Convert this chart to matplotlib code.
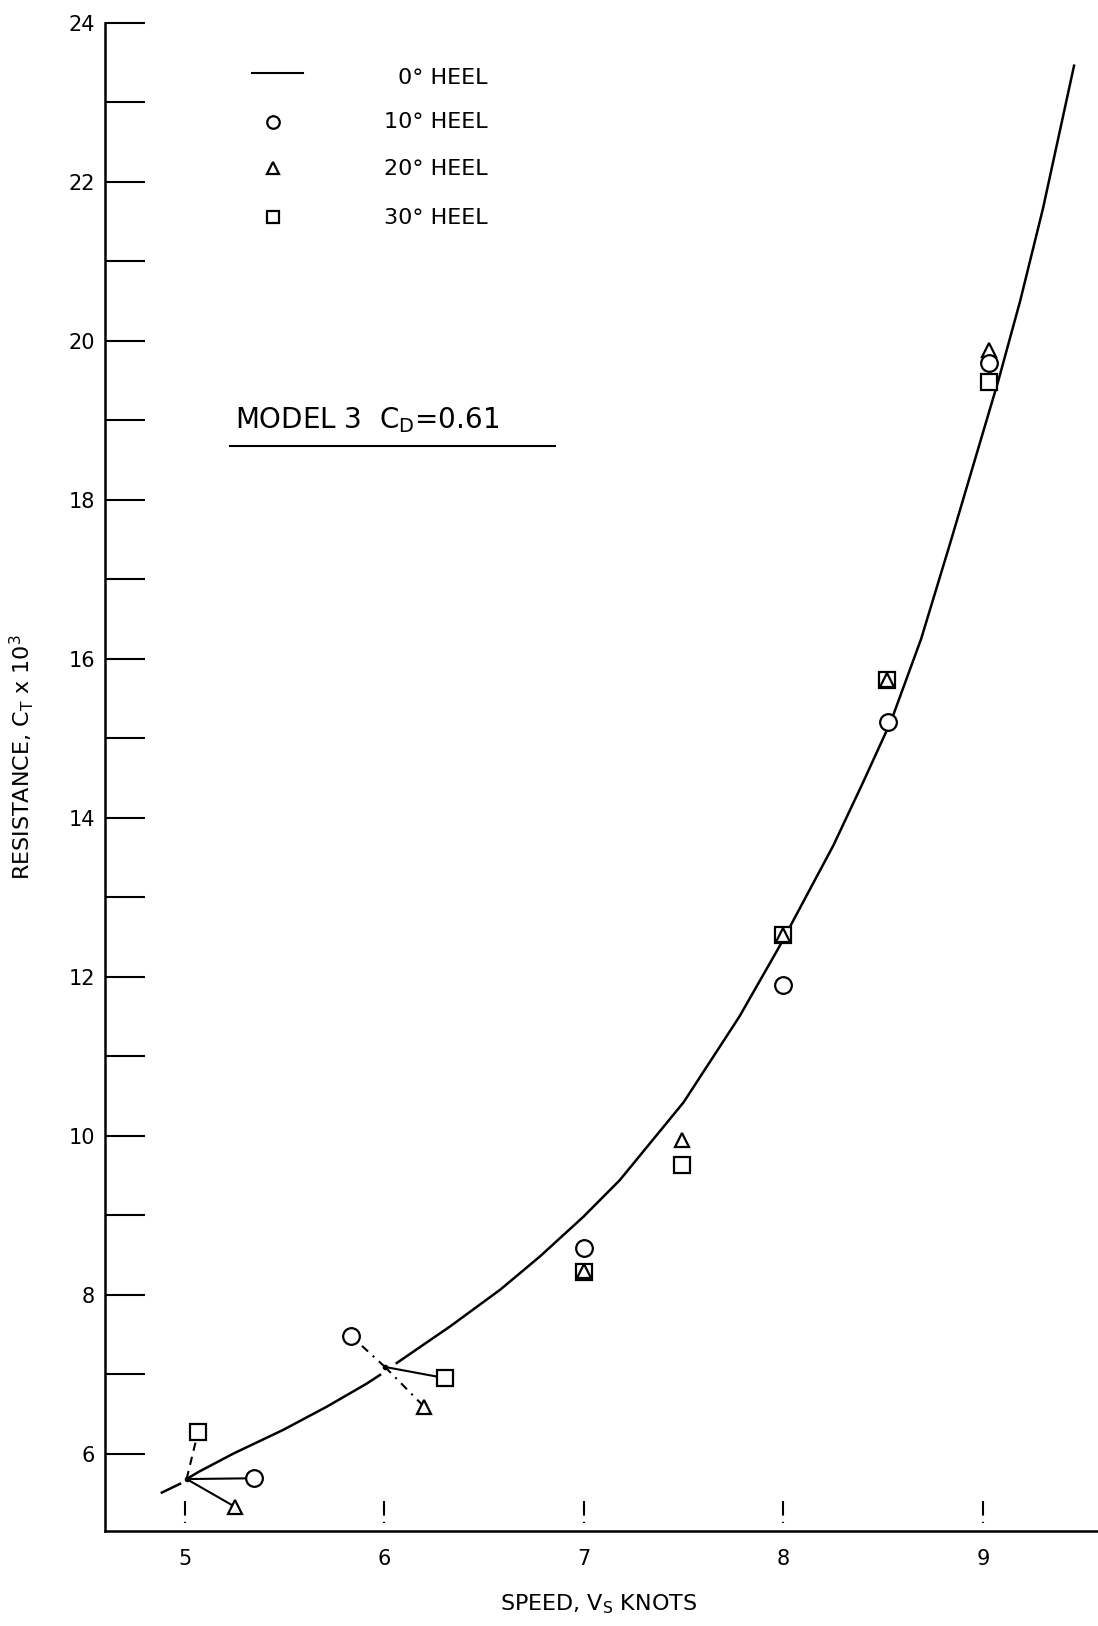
import matplotlib
matplotlib.use("Agg")
import matplotlib.pyplot as plt
from matplotlib.lines import Line2D

plt.rcParams['font.family'] = ['DejaVu Sans']
plt.rcParams['mathtext.default'] = 'regular'

# 0 deg heel faired curve (it breaks around 6 kn)
curve_lo_v = [5.01, 5.07, 5.244, 5.495, 5.712, 5.912, 5.979]
curve_lo_ct = [5.68, 5.77, 6.00, 6.30, 6.59, 6.88, 6.99]
curve_hi_v = [6.063, 6.33, 6.58, 6.78, 6.998, 7.18, 7.5, 7.78, 7.98, 8.25,
              8.40, 8.54, 8.69, 8.835, 9.077, 9.186, 9.30, 9.456]
curve_hi_ct = [7.14, 7.60, 8.06, 8.48, 8.98, 9.44, 10.42, 11.50, 12.38, 13.65,
               14.45, 15.22, 16.25, 17.45, 19.50, 20.50, 21.66, 23.46]

# measured points
heel10_v = [5.348, 5.834, 7.0, 8.0, 8.524, 9.03]
heel10_ct = [5.69, 7.48, 8.59, 11.89, 15.20, 19.72]
heel20_v = [5.253, 6.200, 7.0, 7.49, 8.0, 8.52, 9.03]
heel20_ct = [5.33, 6.59, 8.30, 9.94, 12.53, 15.73, 19.88]
heel30_v = [5.067, 6.305, 7.0, 7.49, 8.0, 8.52, 9.03]
heel30_ct = [6.27, 6.95, 8.28, 9.63, 12.53, 15.73, 19.48]

# where the heeled points at 5 and 6 kn are tied back to the 0 deg curve
hub_v = [5.01, 6.004]
hub_ct = [5.68, 7.09]

xticks = [5, 6, 7, 8, 9]
ymajor = list(range(6, 25, 2))
yminor = list(range(7, 24, 2))

W, H = 1098, 1626
def fx(px):
    return px / W
def fy(py):
    return 1 - py / H

fig = plt.figure(figsize=(10.98, 16.26), dpi=100)
ax = fig.add_axes([0.0956, 0.0584, 0.9044, 0.9276])
ax.set_xlim(4.601, 9.576)
ax.set_ylim(5.026, 24)

ax.spines['top'].set_visible(False)
ax.spines['right'].set_visible(False)
ax.spines['left'].set_linewidth(1.8)
ax.spines['bottom'].set_linewidth(1.8)

ax.set_yticks(ymajor)
ax.set_yticks(yminor, minor=True)
ax.tick_params(axis='y', which='both', direction='in', length=29, width=1.5,
               pad=7, labelsize=15)
ax.set_xticks(xticks)
ax.tick_params(axis='x', length=0, pad=13, labelsize=15)
# the knot marks are little "!" strokes above the axis (dash on top, dot below)
ax.vlines(xticks, 5.40, 5.13, colors='k', lw=1.5, linestyles=(0, (7, 3, 1.5, 3)))

# faired 0 deg curve
ax.plot(curve_lo_v, curve_lo_ct, color='k', lw=1.8)
ax.plot(curve_hi_v, curve_hi_ct, color='k', lw=1.8)
ax.plot([4.886, 4.977], [5.51, 5.62], color='k', lw=1.8)

# tie lines from the hubs to the heeled points
ax.plot([hub_v[0], heel10_v[0]], [hub_ct[0], heel10_ct[0]], color='k', lw=1.5)
ax.plot([hub_v[0], heel20_v[0]], [hub_ct[0], heel20_ct[0]], color='k', lw=1.5)
ax.plot([hub_v[0], heel30_v[0]], [hub_ct[0], heel30_ct[0]], color='k', lw=1.5,
        linestyle=(0, (4, 3)))
ax.plot([hub_v[1], heel10_v[1]], [hub_ct[1], heel10_ct[1]], color='k', lw=1.5,
        linestyle=(0, (4, 3, 1, 3)))
ax.plot([hub_v[1], heel30_v[1]], [hub_ct[1], heel30_ct[1]], color='k', lw=1.5)
ax.plot([hub_v[1], heel20_v[1]], [hub_ct[1], heel20_ct[1]], color='k', lw=1.5,
        linestyle=(0, (4, 3, 1, 3)))
ax.plot(hub_v, hub_ct, 'o', color='k', ms=3)

mk = dict(linestyle='none', mfc='white', mec='k', mew=1.6)
ax.plot(heel30_v, heel30_ct, marker='s', ms=11, **mk)
ax.plot(heel20_v, heel20_ct, marker='^', ms=10, **mk)
ax.plot(heel10_v, heel10_ct, marker='o', ms=12, **mk)

# legend, drawn by hand to keep the right-aligned labels
fig.add_artist(Line2D([fx(252), fx(303)], [fy(73), fy(73)], color='k', lw=1.5))
for py, m in [(122, 'o'), (168, '^'), (217, 's')]:
    fig.add_artist(Line2D([fx(273)], [fy(py)], marker=m, ms=9, mfc='white',
                          mec='k', mew=1.6, linestyle='none'))
for py, txt in [(78, "0° HEEL"), (122, "10° HEEL"), (169, "20° HEEL"), (218, "30° HEEL")]:
    fig.text(fx(488), fy(py), txt, ha='right', va='center', fontsize=16)

fig.text(fx(235), fy(420), r"MODEL 3  C$_D$=0.61", ha='left', va='center', fontsize=20)
fig.add_artist(Line2D([fx(230), fx(555)], [fy(446), fy(446)], color='k', lw=1.5))

fig.text(fx(22), fy(757), r"RESISTANCE, C$_T$ x 10$^3$", rotation=90,
         ha='center', va='center', fontsize=16)
fig.text(fx(599), fy(1604), r"SPEED, V$_S$ KNOTS", ha='center', va='center', fontsize=16)

fig.savefig("out.png", dpi=100)
